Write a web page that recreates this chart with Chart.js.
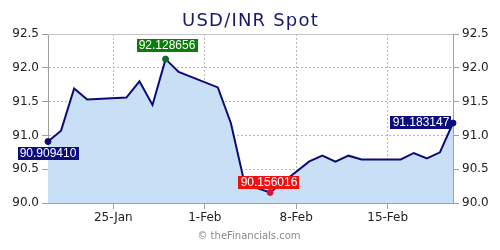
<!DOCTYPE html>
<html>
<head>
<meta charset="utf-8">
<script src="https://cdn.jsdelivr.net/npm/chart.js@4/dist/chart.umd.min.js"></script>
<style>
  body { margin: 0; background: #fff; }
  canvas { display: block; }
</style>
</head>
<body>
<canvas id="chartSpot" width="500" height="250"></canvas>
<script>
// USD/INR spot, trading days only
const dates = ['2026-01-20', '2026-01-21', '2026-01-22', '2026-01-23', '2026-01-26', '2026-01-27', '2026-01-28', '2026-01-29', '2026-01-30',
  '2026-02-02', '2026-02-03', '2026-02-04', '2026-02-05', '2026-02-06', '2026-02-09', '2026-02-10', '2026-02-11', '2026-02-12', '2026-02-13',
  '2026-02-16', '2026-02-17', '2026-02-18', '2026-02-19', '2026-02-20'];
const values = [90.909410, 91.07, 91.695, 91.53, 91.56, 91.80, 91.45, 92.128656, 91.94,
  91.71, 91.18, 90.33, 90.22, 90.156016, 90.615, 90.70, 90.61, 90.70, 90.645,
  90.645, 90.74, 90.66, 90.75, 91.183147];
const tickDates = ['2026-01-25', '2026-02-01', '2026-02-08', '2026-02-15'];
const tickLabels = ['25-Jan', '1-Feb', '8-Feb', '15-Feb'];
const startDate = '2026-01-20';
const endDate = '2026-02-20';

const dayOf = s => (Date.parse(s) - Date.parse(startDate)) / 86400000;
const points = dates.map((d, i) => ({ x: dayOf(d), y: values[i] }));
const tickDays = tickDates.map(dayOf);

const iFirst = 0;
const iLast = values.length - 1;
const iMax = values.indexOf(Math.max(...values));
const iMin = values.indexOf(Math.min(...values));

const navy = '#0b0b78';
const markerColor = i => i === iMax ? '#0d6b2e' : i === iMin ? '#d3123c' : navy;

const textPlugin = {
  id: 'texts',
  afterDraw(chart) {
    const c = chart.ctx;
    c.save();
    c.textAlign = 'center';
    c.fillStyle = '#18186f';
    c.font = '18px "DejaVu Sans"';
    c.letterSpacing = '1.2px';
    c.textBaseline = 'alphabetic';
    c.fillText('USD/INR Spot', 250.5, 26);
    c.letterSpacing = '0px';
    c.fillStyle = '#8a8a8a';
    c.font = '10px "DejaVu Sans"';
    c.textBaseline = 'middle';
    c.fillText('\u00a9 theFinancials.com', 249, 236);
    c.restore();
  }
};

const framePlugin = {
  id: 'frame',
  beforeDatasetsDraw(chart) {
    const a = chart.chartArea, c = chart.ctx;
    c.save();
    c.strokeStyle = '#c4c4c4';
    c.lineWidth = 1;
    c.beginPath();
    c.moveTo(a.left, Math.round(a.top) + 0.5);
    c.lineTo(a.right, Math.round(a.top) + 0.5);
    c.stroke();
    c.restore();
  }
};

const labelPlugin = {
  id: 'pointLabels',
  afterDatasetsDraw(chart) {
    const pts = chart.getDatasetMeta(0).data;
    const c = chart.ctx;
    const marks = [
      { i: iFirst, bg: '#0c0c7c', place: 'below' },
      { i: iMax, bg: '#0a7d0a', place: 'above' },
      { i: iMin, bg: '#ee1111', place: 'aboveClose' },
      { i: iLast, bg: '#0c0c7c', place: 'left' }
    ];
    c.save();
    c.font = '12px "Liberation Sans"';
    c.textAlign = 'center';
    c.textBaseline = 'middle';
    marks.forEach(m => {
      const p = pts[m.i];
      const txt = values[m.i].toFixed(6);
      const w = c.measureText(txt).width + 4;
      const h = 13;
      let cx, top;
      if (m.place === 'below') { cx = p.x; top = p.y + 5.5; }
      if (m.place === 'above') { cx = p.x + 1.4; top = p.y - 7.6 - h; }
      if (m.place === 'aboveClose') { cx = p.x - 1.3; top = p.y - 3.7 - h; }
      if (m.place === 'left') { cx = p.x - 2 - w / 2; top = p.y - 0.5 - h / 2; }
      c.fillStyle = m.bg;
      c.fillRect(Math.round(cx - w / 2), Math.round(top), Math.round(w), h);
      c.fillStyle = '#fff';
      c.fillText(txt, Math.round(cx), Math.round(top) + h / 2 + 0.5);
    });
    c.restore();
  }
};

const ctx = document.getElementById('chartSpot');

new Chart(ctx, {
  type: 'line',
  data: {
    datasets: [{
      data: points,
      borderColor: navy,
      borderWidth: 2,
      backgroundColor: '#c9dff6',
      fill: 'start',
      tension: 0,
      clip: false,
      pointRadius: c => [iFirst, iLast, iMax, iMin].includes(c.dataIndex) ? 3 : 0,
      pointBackgroundColor: c => markerColor(c.dataIndex),
      pointBorderColor: c => markerColor(c.dataIndex),
      pointBorderWidth: 1
    }]
  },
  options: {
    responsive: false,
    animation: false,
    layout: { padding: { top: 34, left: 0, right: 0, bottom: 0 } },
    plugins: {
      legend: { display: false },
      title: { display: false },
      tooltip: { enabled: false }
    },
    scales: {
      x: {
        type: 'linear',
        min: 0,
        max: dayOf(endDate),
        afterFit: s => { s.height = 47; },
        afterBuildTicks: s => { s.ticks = tickDays.map(v => ({ value: v })); },
        ticks: {
          autoSkip: false,
          maxRotation: 0,
          padding: 2,
          color: '#222',
          font: { family: 'DejaVu Sans', size: 12 },
          callback: v => tickLabels[tickDays.indexOf(v)]
        },
        grid: { color: '#b8b8b8', tickColor: '#a0a0a0', tickLength: 6 },
        border: { color: '#a0a0a0', dash: [2, 2] }
      },
      y: {
        position: 'left',
        min: 90,
        max: 92.5,
        afterFit: s => { s.width = 48; },
        ticks: {
          stepSize: 0.5,
          padding: 3,
          color: '#222',
          font: { family: 'DejaVu Sans', size: 12 },
          callback: v => v.toFixed(1)
        },
        grid: { color: '#b8b8b8', tickColor: '#a0a0a0', tickLength: 6 },
        border: { color: '#a0a0a0', dash: [2, 2] }
      },
      y2: {
        position: 'right',
        min: 90,
        max: 92.5,
        afterFit: s => { s.width = 47; },
        ticks: {
          stepSize: 0.5,
          padding: 3,
          color: '#222',
          font: { family: 'DejaVu Sans', size: 12 },
          callback: v => v.toFixed(1)
        },
        grid: { drawOnChartArea: false, tickColor: '#a0a0a0', tickLength: 6 },
        border: { color: '#a0a0a0' }
      }
    }
  },
  plugins: [textPlugin, framePlugin, labelPlugin]
});
</script>
</body>
</html>
